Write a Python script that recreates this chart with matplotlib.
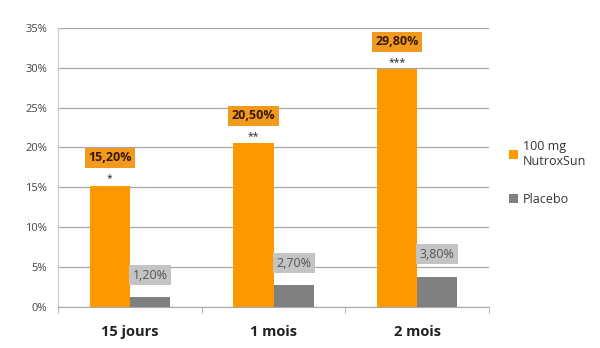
import numpy as np
import matplotlib.pyplot as plt
from matplotlib.ticker import FixedLocator

plt.rcParams['font.family'] = ['Open Sans', 'DejaVu Sans']

categories = ['15 jours', '1 mois', '2 mois']
nutrox = [15.2, 20.5, 29.8]
placebo = [1.2, 2.7, 3.8]
stars = ['*', '**', '***']
nutrox_labels = ['15,20%', '20,50%', '29,80%']
placebo_labels = ['1,20%', '2,70%', '3,80%']

orange = '#FF9900'
grey = '#808080'

fig = plt.figure(figsize=(6, 3.48), dpi=100)
ax = fig.add_axes([0.097, 0.118, 0.718, 0.802])

x = np.arange(len(categories))
w = 0.28
ax.bar(x - w / 2, nutrox, w, color=orange, label='100 mg\nNutroxSun', zorder=3)
ax.bar(x + w / 2, placebo, w, color=grey, label='Placebo', zorder=3)

for i in range(len(categories)):
    ax.annotate(stars[i], (x[i] - w / 2, nutrox[i]), xytext=(0, 1), textcoords='offset points',
                ha='center', va='bottom', fontsize=7.5, color='#222222')
    ax.annotate(nutrox_labels[i], (x[i] - w / 2, nutrox[i]), xytext=(0, 20), textcoords='offset points',
                ha='center', va='center', fontsize=9, fontweight='bold', color='#3a1a00',
                bbox=dict(boxstyle='square,pad=0.28', fc='#F29A1E', ec='none'))
    ax.annotate(placebo_labels[i], (x[i] + w / 2, placebo[i]), xytext=(0, 16), textcoords='offset points',
                ha='center', va='center', fontsize=9, color='#555555',
                bbox=dict(boxstyle='square,pad=0.28', fc='#C4C4C4', ec='none'))

ax.set_xlim(-0.5, len(categories) - 0.5)
ax.set_ylim(0, 35)
ax.set_yticks(range(0, 36, 5))
ax.set_yticklabels([f'{v}%' for v in range(0, 36, 5)], fontsize=8, color='#444444')
ax.yaxis.grid(True, color='#A8A8A8', linewidth=0.9, zorder=0)
ax.tick_params(axis='y', length=0, pad=8)

ax.set_xticks(x)
ax.set_xticklabels(categories, fontsize=10.5, fontweight='bold', color='#222222')
ax.tick_params(axis='x', length=0, pad=13)
ax.xaxis.set_minor_locator(FixedLocator([-0.5, 0.5, 1.5, 2.5]))
ax.tick_params(axis='x', which='minor', length=4, color='#A8A8A8', direction='out')

for s in ['top', 'right']:
    ax.spines[s].set_visible(False)
ax.spines['left'].set_color('#C8C8C8')
ax.spines['bottom'].set_color('#A8A8A8')

ax.legend(loc='center left', bbox_to_anchor=(1.02, 0.48), frameon=False, fontsize=9,
          handlelength=0.7, handleheight=0.7, handletextpad=0.4, labelspacing=2.0,
          labelcolor='#333333')

fig.savefig('out.png', dpi=100)
